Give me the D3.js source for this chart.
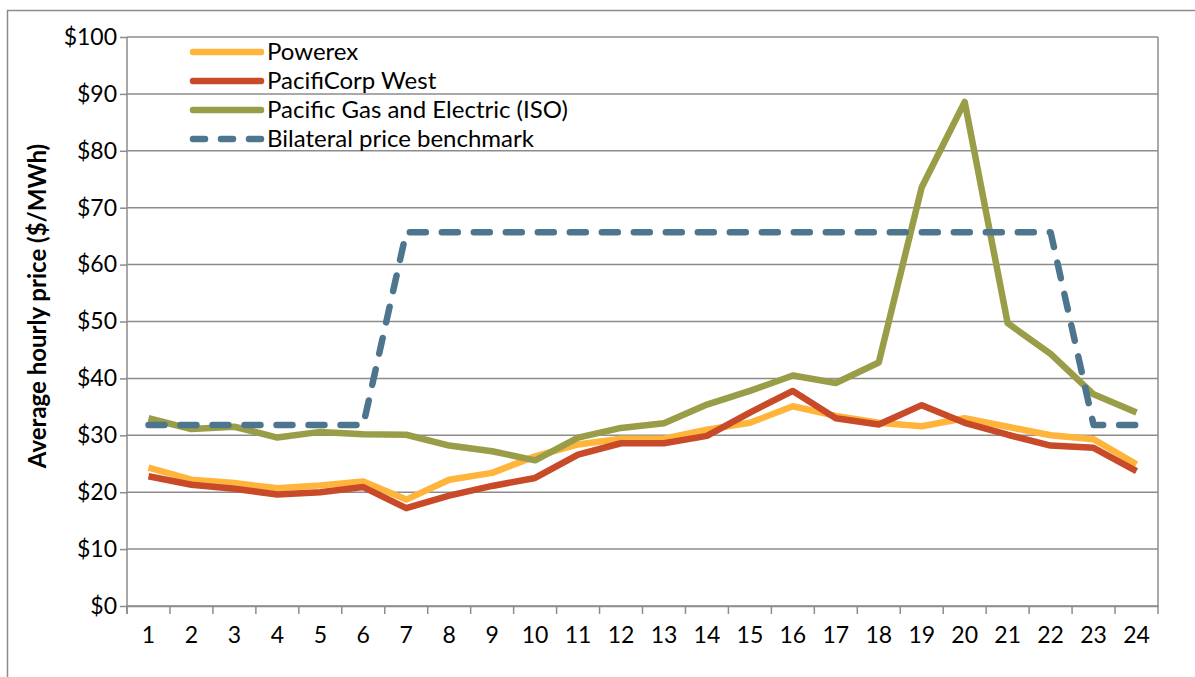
<!DOCTYPE html>
<html>
<head>
<meta charset="utf-8">
<script src="https://cdn.jsdelivr.net/npm/d3@7"></script>
<style>
  body { margin: 0; background: #fff; }
  svg { display: block; font-family: Lato, "Open Sans", sans-serif; }
</style>
</head>
<body>
<svg width="1195" height="677"></svg>
<script>
// hours of the day
const hours = d3.range(1, 25);

const powerex = [24.3, 22.2, 21.6, 20.7, 21.2, 21.9, 18.7, 22.2, 23.4, 26.3, 28.4, 29.4,
  29.4, 31.0, 32.2, 35.1, 33.4, 32.2, 31.6, 33.0, 31.5, 30.0, 29.3, 24.9];
const pacifiCorpWest = [22.8, 21.3, 20.6, 19.6, 20.0, 20.9, 17.2, 19.4, 21.1, 22.5, 26.6, 28.6,
  28.6, 29.9, 34.0, 37.8, 33.0, 31.9, 35.3, 32.2, 30.1, 28.2, 27.8, 23.7];
const pge = [33.0, 31.1, 31.5, 29.6, 30.6, 30.2, 30.1, 28.2, 27.2, 25.6, 29.6, 31.3,
  32.1, 35.4, 37.8, 40.5, 39.2, 42.8, 73.6, 88.6, 49.7, 44.3, 37.2, 34.0];
const benchmark = [31.8, 31.8, 31.8, 31.8, 31.8, 31.8, 65.7, 65.7, 65.7, 65.7, 65.7, 65.7,
  65.7, 65.7, 65.7, 65.7, 65.7, 65.7, 65.7, 65.7, 65.7, 65.7, 31.8, 31.8];

const yTicks = [0, 10, 20, 30, 40, 50, 60, 70, 80, 90, 100];

const series = [
  { name: 'Powerex', values: powerex, color: '#ffb53b', dash: null },
  { name: 'PacifiCorp West', values: pacifiCorpWest, color: '#c94a29', dash: null },
  { name: 'Pacific Gas and Electric (ISO)', values: pge, color: '#9a9d48', dash: null },
  { name: 'Bilateral price benchmark', values: benchmark, color: '#4e758e', dash: '16,16' }
];

const svg = d3.select('svg');
const margin = { top: 37, right: 37, bottom: 71, left: 127 };
const innerWidth = 1195 - margin.left - margin.right;
const innerHeight = 677 - margin.top - margin.bottom;

// outer chart frame (runs off the right and bottom of the window)
svg.append('rect')
  .attr('x', 7.5).attr('y', 10.5)
  .attr('width', 1300).attr('height', 800)
  .attr('fill', 'none').attr('stroke', '#8c8c8c').attr('stroke-width', 1.5);

const g = svg.append('g').attr('transform', `translate(${margin.left},${margin.top})`);

const x = d3.scaleBand().domain(hours).range([0, innerWidth]);
const y = d3.scaleLinear().domain([0, 100]).range([innerHeight, 0]);

// gridlines
g.append('g')
  .selectAll('line')
  .data(yTicks)
  .enter().append('line')
  .attr('x1', 0).attr('x2', innerWidth)
  .attr('y1', d => y(d)).attr('y2', d => y(d))
  .attr('stroke', '#8c8c8c').attr('stroke-width', 1.5);

// right border of plot area
g.append('line')
  .attr('x1', innerWidth).attr('x2', innerWidth)
  .attr('y1', 0).attr('y2', innerHeight + 8)
  .attr('stroke', '#8c8c8c').attr('stroke-width', 1.5);

// y axis
const yAxis = g.append('g')
  .call(d3.axisLeft(y).tickValues(yTicks).tickFormat(d => '$' + d).tickSize(7).tickPadding(3));
yAxis.select('.domain').remove();
yAxis.append('line').attr('x1', 0).attr('x2', 0).attr('y1', 0).attr('y2', innerHeight + 8);
yAxis.selectAll('line').attr('stroke', '#8c8c8c').attr('stroke-width', 1.5);
yAxis.selectAll('text').attr('font-size', 23).attr('fill', '#000').attr('font-family', 'Lato, sans-serif');

// x axis: ticks at category boundaries
const xAxis = g.append('g').attr('transform', `translate(0,${innerHeight})`)
  .call(d3.axisBottom(x).tickSize(0).tickPadding(21));
xAxis.select('.domain').attr('stroke', '#8c8c8c').attr('stroke-width', 1.5);
xAxis.selectAll('text').attr('font-size', 23).attr('fill', '#000').attr('font-family', 'Lato, sans-serif');
xAxis.selectAll('.boundary')
  .data(hours)
  .enter().append('line')
  .attr('x1', d => x(d)).attr('x2', d => x(d))
  .attr('y1', 0).attr('y2', 8)
  .attr('stroke', '#8c8c8c').attr('stroke-width', 1.5);

// y axis title
svg.append('text')
  .attr('transform', `translate(46,306) rotate(-90)`)
  .attr('text-anchor', 'middle')
  .attr('font-size', 24).attr('font-weight', 'bold')
  .text('Average hourly price ($/MWh)');

// lines
const line = d3.line()
  .x((d, i) => x(hours[i]) + x.bandwidth() / 2)
  .y(d => y(d));

series.forEach(s => {
  g.append('path')
    .datum(s.values)
    .attr('d', line)
    .attr('fill', 'none')
    .attr('stroke', s.color)
    .attr('stroke-width', 6.5)
    .attr('stroke-linejoin', 'round')
    .attr('stroke-linecap', s.dash ? 'round' : 'butt')
    .attr('stroke-dasharray', s.dash);
});

// legend
const legend = svg.append('g').attr('transform', 'translate(190,52)');
series.forEach((s, i) => {
  const row = legend.append('g').attr('transform', `translate(0,${i * 29})`);
  row.append('line')
    .attr('x1', 3).attr('x2', 71)
    .attr('stroke', s.color).attr('stroke-width', 6.5)
    .attr('stroke-linecap', 'round')
    .attr('stroke-dasharray', s.dash ? '12,16' : null);
  row.append('text')
    .attr('x', 77).attr('y', 8)
    .attr('font-size', 24)
    .text(s.name);
});
</script>
</body>
</html>
